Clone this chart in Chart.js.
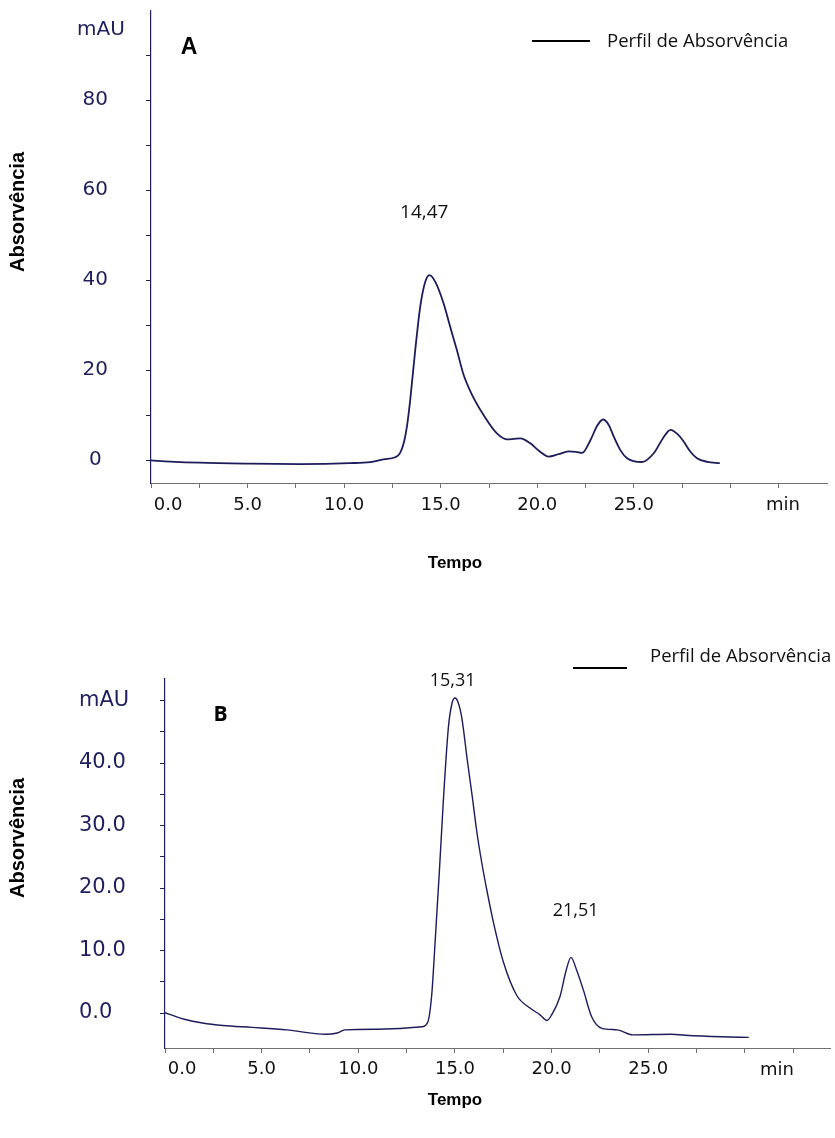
<!DOCTYPE html>
<html><head><meta charset="utf-8">
<script src="https://cdn.jsdelivr.net/npm/chart.js@4.4.1/dist/chart.umd.min.js"></script>
<style>
html,body{margin:0;padding:0;background:#fff;}
#wrap{position:relative;width:835px;height:1138px;overflow:hidden;}
canvas{position:absolute;left:0;display:block;}
</style>
</head><body>
<div id="wrap">
<canvas id="cA" width="835" height="600" style="top:0px"></canvas>
<canvas id="cB" width="835" height="538" style="top:600px"></canvas>
</div>
<script>
// ---------- Chart A data ----------
const timeA = [0, 1.0, 2.5, 5.1, 7.7, 10.3, 11.35, 12.04, 12.64, 12.9, 13.1, 13.25, 13.42, 13.68, 13.94, 14.2, 14.42, 14.72, 15.15, 15.49, 15.84, 16.18, 16.61, 17.22, 17.91, 18.43, 18.8, 19.12, 19.64, 20.1, 20.59, 21.1, 21.62, 22.0, 22.32, 22.75, 23.1, 23.4, 23.7, 23.96, 24.3, 24.65, 25.42, 26.03, 26.5, 26.9, 27.25, 27.58, 27.9, 28.27, 28.8, 29.45];
const absA  = [-0.1, -0.35, -0.6, -0.8, -0.9, -0.7, -0.45, 0.15, 0.6, 1.6, 4.0, 7.4, 13.3, 24.4, 34.1, 39.6, 41.1, 39.6, 34.8, 29.6, 24.4, 19.0, 14.6, 10.0, 5.9, 4.6, 4.7, 4.8, 3.7, 2.0, 0.75, 1.3, 1.9, 1.8, 1.6, 4.4, 7.6, 9.0, 7.8, 5.2, 2.2, 0.4, -0.44, 1.5, 4.8, 6.7, 5.8, 4.1, 2.0, 0.4, -0.4, -0.7];
const xTicksA = [0, 2.5, 5, 7.5, 10, 12.5, 15, 17.5, 20, 22.5, 25, 27.5, 30, 32.5];
const xTickLabelsA = ['0.0', '', '5.0', '', '10.0', '', '15.0', '', '20.0', '', '25.0', '', '', ''];
const yTicksA = [0, 10, 20, 30, 40, 50, 60, 70, 80, 90];
const yTickLabelsA = ['0', '', '20', '', '40', '', '60', '', '80', ''];
const peakLabelsA = ['14,47'];

// ---------- Chart B data ----------
const timeB = [0, 0.5, 1.0, 1.94, 3.0, 4.5, 6.3, 8.3, 8.9, 9.3, 11.0, 13.3, 13.6, 13.8, 13.97, 14.19, 14.4, 14.66, 14.85, 15.0, 15.15, 15.35, 15.64, 15.9, 16.13, 16.4, 16.64, 16.99, 17.5, 18.2, 18.9, 19.4, 19.76, 20.0, 20.43, 20.75, 21.0, 21.3, 21.64, 22.07, 22.6, 23.4, 24.2, 26.2, 26.9, 28.8, 30.2];
const absB  = [0.05, -0.5, -1.0, -1.6, -2.0, -2.3, -2.7, -3.4, -3.2, -2.7, -2.6, -2.2, -1.4, 3.0, 11.2, 22.5, 34.0, 45.7, 49.6, 50.4, 49.8, 47.3, 40.4, 34.5, 29.0, 23.8, 19.8, 14.5, 8.2, 2.8, 0.75, -0.3, -1.2, -0.3, 2.6, 6.8, 8.9, 6.8, 3.7, -0.6, -2.45, -2.7, -3.5, -3.4, -3.55, -3.8, -3.9];
const xTicksB = [0, 2.5, 5, 7.5, 10, 12.5, 15, 17.5, 20, 22.5, 25, 27.5, 30, 32.5];
const xTickLabelsB = ['0.0', '', '5.0', '', '10.0', '', '15.0', '', '20.0', '', '25.0', '', '', ''];
const yTicksB = [0, 5, 10, 15, 20, 25, 30, 35, 40, 45, 50];
const yTickLabelsB = ['0.0', '', '10.0', '', '20.0', '', '30.0', '', '40.0', '', 'mAU'];
const peakLabelsB = ['15,31', '21,51'];

// ---------- styles ----------
const NAVY = '#1f1f5e';
const LINE = '#1c1c5a';
const legendText = 'Perfil de Absorvência';

const decor = {
  id: 'decor',
  afterDraw(chart, args, o) {
    const ctx = chart.ctx, xs = chart.scales.x, ys = chart.scales.y;
    const put = (t, x, y) => {
      ctx.save();
      ctx.font = t.font; ctx.fillStyle = t.color || '#000';
      ctx.textAlign = t.align || 'center'; ctx.textBaseline = 'middle';
      ctx.translate(x, y); if (t.rotate) ctx.rotate(t.rotate);
      ctx.fillText(t.text, 0, 0);
      ctx.restore();
    };
    (o.texts || []).forEach(t => put(t, t.x, t.y));
    (o.notes || []).forEach(t => put(t, xs.getPixelForValue(t.x), ys.getPixelForValue(t.y)));
    if (o.legend) {
      const L = o.legend;
      ctx.save();
      ctx.strokeStyle = '#000'; ctx.lineWidth = 2;
      ctx.beginPath(); ctx.moveTo(L.x1, L.y); ctx.lineTo(L.x2, L.y); ctx.stroke();
      ctx.restore();
      put({text: L.text, font: L.font, color: '#111', align: 'left'}, L.tx, L.ty);
    }
  }
};

function build(id, times, vals, opt) {
  return new Chart(document.getElementById(id), {
    type: 'line',
    data: { datasets: [{
      data: times.map((t, i) => ({x: t, y: vals[i]})),
      borderColor: LINE, borderWidth: opt.lw, pointRadius: 0,
      cubicInterpolationMode: 'monotone', fill: false
    }]},
    options: {
      responsive: false, animation: false, events: [],
      layout: { padding: opt.padding },
      plugins: { legend: {display: false}, tooltip: {enabled: false}, decor: opt.decor },
      scales: {
        x: {
          type: 'linear', min: opt.xmin, max: opt.xmax,
          afterBuildTicks: s => { s.ticks = opt.xTicks.map(v => ({value: v})); },
          afterFit: s => { s.height = opt.xh; s.paddingLeft = 0; s.paddingRight = 0; },
          ticks: { autoSkip: false, maxRotation: 0, minRotation: 0, padding: opt.xpad, color: '#111',
                   font: {family: 'DejaVu Sans', size: 18},
                   callback: (v, i) => (i === 0 ? '      ' : '') + opt.xLabels[i] },
          grid: { display: true, drawOnChartArea: false, drawTicks: true, tickLength: 5, tickColor: opt.xColor, color: opt.xColor },
          border: { display: true, color: opt.xColor, width: 1 }
        },
        y: {
          type: 'linear', min: opt.ymin, max: opt.ymax,
          afterBuildTicks: s => { s.ticks = opt.yTicks.map(v => ({value: v})); },
          afterFit: s => { s.width = opt.yw; s.paddingTop = 0; s.paddingBottom = 0; },
          ticks: { autoSkip: false, padding: opt.ypad, color: NAVY, crossAlign: opt.cross,
                   font: {family: 'DejaVu Sans', size: opt.yfs},
                   callback: (v, i) => opt.yLabels[i] },
          grid: { display: true, drawOnChartArea: false, drawTicks: true, tickLength: 5, tickColor: NAVY, color: NAVY },
          border: { display: true, color: NAVY, width: 1.2 }
        }
      }
    },
    plugins: [decor]
  });
}

build('cA', timeA, absA, {
  lw: 1.8,
  padding: {left: 0, top: 11, right: 8, bottom: 0},
  xmin: 0, xmax: 35, xTicks: xTicksA, xLabels: xTickLabelsA, xh: 117, xpad: 7, xColor: '#707070',
  ymin: -5.11, ymax: 99.8, yTicks: yTicksA, yLabels: yTickLabelsA, yw: 151, ypad: 38, cross: 'center', yfs: 20,
  decor: {
    texts: [
      {text: 'mAU', x: 101, y: 30, font: '20px "DejaVu Sans"', color: NAVY},
      {text: 'A', x: 189, y: 48, font: 'bold 23px "Liberation Sans"', color: '#000'},
      {text: 'min', x: 783, y: 505, font: '18px "DejaVu Sans"', color: '#111'},
      {text: 'Tempo', x: 455, y: 563, font: 'bold 17px "Liberation Sans"', color: '#000'},
      {text: 'Absorvência', x: 18, y: 212, rotate: -Math.PI / 2, font: 'bold 20px "Liberation Sans"', color: '#000'}
    ],
    notes: [ {text: peakLabelsA[0], x: 14.15, y: 54.9, font: '19px "Open Sans"', color: '#111'} ],
    legend: {x1: 532, x2: 590, y: 41, tx: 607, ty: 42, text: legendText, font: '18.5px "Open Sans"'}
  }
});

build('cB', timeB, absB, {
  lw: 1.4,
  padding: {left: 79, top: 79, right: 5, bottom: 0},
  xmin: 0, xmax: 34.4, xTicks: xTicksB, xLabels: xTickLabelsB, xh: 90, xpad: 6, xColor: '#707070',
  ymin: -5.6, ymax: 53.44, yTicks: yTicksB, yLabels: yTickLabelsB, yw: 86, ypad: 20, cross: 'far', yfs: 21,
  decor: {
    texts: [
      {text: 'B', x: 220.5, y: 115, font: 'bold 21px "Open Sans"', color: '#000'},
      {text: 'min', x: 777, y: 470, font: '18px "DejaVu Sans"', color: '#111'},
      {text: 'Tempo', x: 455, y: 500, font: 'bold 17px "Liberation Sans"', color: '#000'},
      {text: 'Absorvência', x: 18, y: 238, rotate: -Math.PI / 2, font: 'bold 20px "Liberation Sans"', color: '#000'}
    ],
    notes: [
      {text: peakLabelsB[0], x: 14.88, y: 53.1, font: '18px "Open Sans"', color: '#111'},
      {text: peakLabelsB[1], x: 21.24, y: 16.3, font: '18px "Open Sans"', color: '#111'}
    ],
    legend: {x1: 573, x2: 627, y: 68, tx: 650, ty: 57, text: legendText, font: '18.5px "Open Sans"'}
  }
});
</script>
</body></html>
